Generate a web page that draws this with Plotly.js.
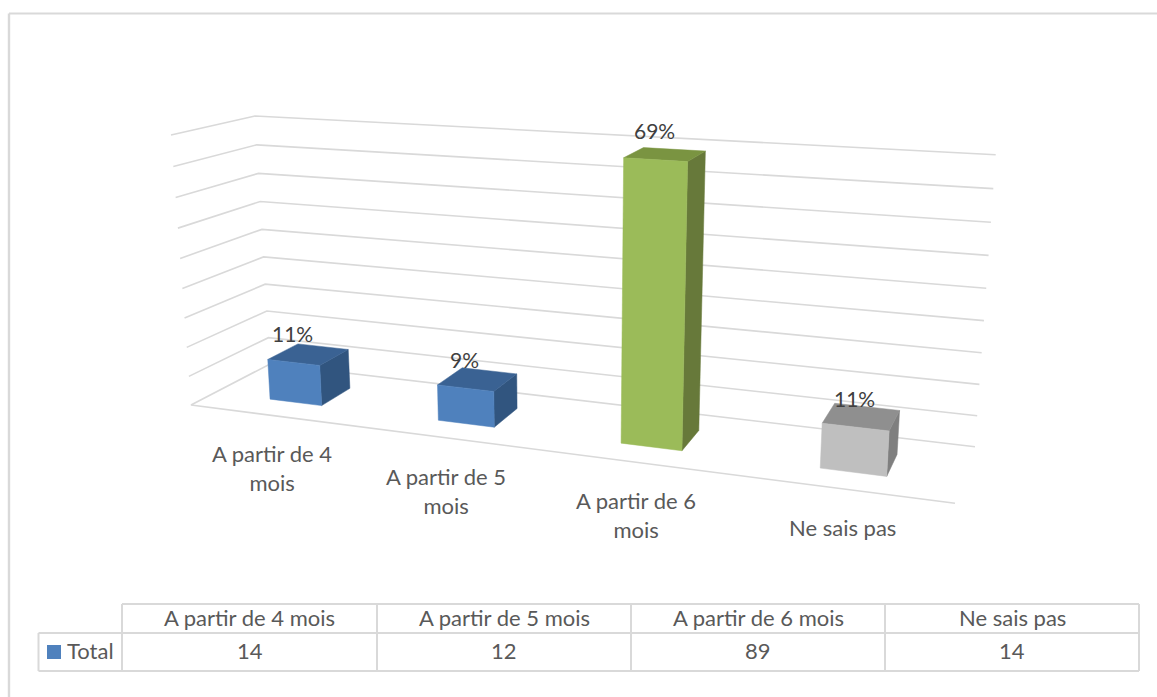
<!DOCTYPE html>
<html>
<head>
<meta charset="utf-8">
<script src="https://cdn.plot.ly/plotly-3.0.1.min.js"></script>
<style>html,body{margin:0;padding:0;background:#fff;overflow:hidden}#chart{width:1157px;height:697px}</style>
</head>
<body>
<div id="chart"></div>
<script>
// Data
const categories = ["A partir de 4 mois", "A partir de 5 mois", "A partir de 6 mois", "Ne sais pas"];
const categoryLabels = ["A partir de 4<br>mois", "A partir de 5<br>mois", "A partir de 6<br>mois", "Ne sais pas"];
const values = [14, 12, 89, 14];
const percentLabels = ["11%", "9%", "69%", "11%"];
const seriesName = "Total";
const axisTicks = [0, 10, 20, 30, 40, 50, 60, 70, 80, 90];

// Style
const faceColors = [
  {front: "#4F81BD", top: "#3A6293", side: "#31557F"},
  {front: "#4F81BD", top: "#3A6293", side: "#31557F"},
  {front: "#9BBB59", top: "#7A9441", side: "#67793A"},
  {front: "#BFBFBF", top: "#8F8F8F", side: "#7F7F7F"}
];
const GRID = "#D9D9D9", FONT = "Lato, sans-serif", LABEL = "#595959", DATA = "#404040";
const FS = 22;

// 3D frame of the chart (image position of the eight corners of the plot box)
const box = {
  floor: {fl: [191, 405], fr: [955, 503.3], bl: [270, 364], br: [975, 446.7]},
  top:   {fl: [171, 135], fr: [975, 185],   bl: [255, 116], br: [995.7, 154.7]}
};
const axisMax = 90, nCat = values.length;
const kx = 1.185, kz = 1.053;        // perspective foreshortening
const halfBar = 0.1575;              // half bar width, in category units
const depth0 = 0.31, depth1 = 0.71;  // bar depth range

const warp = (t, k) => t / (t + k * (1 - t));
const lerp = (a, b, t) => [a[0] + (b[0] - a[0]) * t, a[1] + (b[1] - a[1]) * t];
function project(cat, d, val) {
  const u = warp(cat / nCat, kx), s = warp(val / axisMax, kz);
  const f = lerp(lerp(box.floor.fl, box.floor.fr, u), lerp(box.floor.bl, box.floor.br, u), d);
  const t = lerp(lerp(box.top.fl, box.top.fr, u), lerp(box.top.bl, box.top.br, u), d);
  return lerp(f, t, s);
}

const traces = [];
function line(pts, color, width) {
  traces.push({type: "scatter", mode: "lines", x: pts.map(p => p[0]), y: pts.map(p => p[1]),
    line: {color, width}, hoverinfo: "skip", showlegend: false});
}
function poly(pts, color) {
  const c = pts.concat([pts[0]]);
  traces.push({type: "scatter", mode: "lines", x: c.map(p => p[0]), y: c.map(p => p[1]),
    fill: "toself", fillcolor: color, line: {color, width: 0.5}, hoverinfo: "skip", showlegend: false});
}

// walls: gridlines
axisTicks.forEach(v => {
  if (v > 0) line([project(0, 0, v), project(0, 1, v), project(nCat, 1, v)], GRID, 1.6);
});
line([project(nCat, 0, 0), project(0, 0, 0), project(0, 1, 0), project(nCat, 1, 0)], GRID, 1.6);

// bars
values.forEach((v, i) => {
  const a = i + 0.5 - halfBar, b = i + 0.5 + halfBar, c = faceColors[i];
  poly([project(b, depth0, 0), project(b, depth1, 0), project(b, depth1, v), project(b, depth0, v)], c.side);
  poly([project(a, depth0, v), project(b, depth0, v), project(b, depth1, v), project(a, depth1, v)], c.top);
  poly([project(a, depth0, 0), project(b, depth0, 0), project(b, depth0, v), project(a, depth0, v)], c.front);
});

const annotations = [];
function txt(x, y, text, size, color, xanchor, yanchor) {
  annotations.push({x, y, text, xref: "x", yref: "y", showarrow: false, xanchor: xanchor || "center",
    yanchor: yanchor || "middle", font: {family: FONT, size, color}, align: "center"});
}
// data labels & category labels
values.forEach((v, i) => {
  const p = project(i + 0.5, depth0, v);
  txt(p[0] - 1, p[1] - 29, percentLabels[i], FS - 1, DATA);
  const g = project(i + 0.5, 0, 0);
  txt(g[0] - 1.5, g[1] + 22.5, categoryLabels[i], FS, LABEL, "center", "top");
});

// data table
const colX = [122, 377, 631, 885, 1139], rowY = [604, 633, 671], tableLeft = 38.5;
const shapes = [
  {type: "line", xref: "x", yref: "y", x0: 9, y0: 13.5, x1: 1157, y1: 13.5, line: {color: GRID, width: 2}},
  {type: "line", xref: "x", yref: "y", x0: 9, y0: 13.5, x1: 9, y1: 697, line: {color: GRID, width: 2.4}},
  {type: "rect", xref: "x", yref: "y", x0: 47, y0: 645, x1: 61, y1: 659, line: {width: 0}, fillcolor: "#4F81BD"},
  {type: "line", xref: "x", yref: "y", x0: colX[0], y0: rowY[0], x1: colX[4], y1: rowY[0], line: {color: GRID, width: 2}},
  {type: "line", xref: "x", yref: "y", x0: tableLeft, y0: rowY[1], x1: colX[4], y1: rowY[1], line: {color: GRID, width: 2}},
  {type: "line", xref: "x", yref: "y", x0: tableLeft, y0: rowY[2], x1: colX[4], y1: rowY[2], line: {color: GRID, width: 2}},
  {type: "line", xref: "x", yref: "y", x0: tableLeft, y0: rowY[1], x1: tableLeft, y1: rowY[2], line: {color: GRID, width: 2}}
];
colX.forEach(x => shapes.push({type: "line", xref: "x", yref: "y", x0: x, y0: rowY[0], x1: x, y1: rowY[2], line: {color: GRID, width: 2}}));
categories.forEach((c, i) => {
  const cx = (colX[i] + colX[i + 1]) / 2;
  txt(cx, (rowY[0] + rowY[1]) / 2 - 1.5, c, FS, LABEL);
  txt(cx, (rowY[1] + rowY[2]) / 2 - 1.5, String(values[i]), FS, LABEL);
});
txt(65, (rowY[1] + rowY[2]) / 2 - 1.5, seriesName, FS, LABEL, "left");

Plotly.newPlot("chart", traces, {
  width: 1157, height: 697,
  margin: {l: 0, r: 0, t: 0, b: 0},
  paper_bgcolor: "#fff", plot_bgcolor: "#fff",
  showlegend: false,
  xaxis: {range: [0, 1157], visible: false, fixedrange: true},
  yaxis: {range: [697, 0], visible: false, fixedrange: true},
  shapes, annotations
}, {staticPlot: true, displayModeBar: false});
</script>
</body>
</html>
